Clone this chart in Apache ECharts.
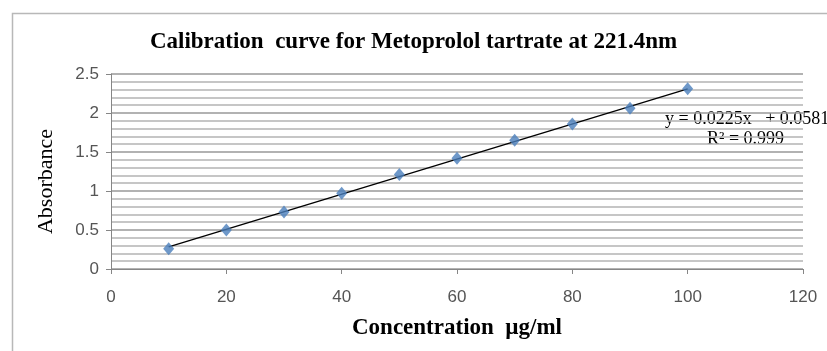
<!DOCTYPE html>
<html>
<head>
<meta charset="utf-8">
<script src="https://cdn.jsdelivr.net/npm/echarts@6/dist/echarts.min.js"></script>
<style>html,body{margin:0;padding:0;background:#fff;}#c{width:827px;height:351px;}</style>
</head>
<body>
<div id="c"></div>
<script>
const titleText = 'Calibration  curve for Metoprolol tartrate at 221.4nm';
const xTitle = 'Concentration  µg/ml';
const yTitle = 'Absorbance';
const concentrations = [10, 20, 30, 40, 50, 60, 70, 80, 90, 100];
const absorbance = [0.26, 0.50, 0.73, 0.97, 1.21, 1.42, 1.65, 1.86, 2.06, 2.31];
const trendX = [10, 100];
const trendY = [0.283, 2.308];
const equationLines = ['y = 0.0225x   + 0.0581', 'R² = 0.999'];

const chart = echarts.init(document.getElementById('c'), null, {renderer: 'canvas'});
const serif = '"Liberation Serif", "Times New Roman", serif';
const sans = '"Liberation Sans", "DejaVu Sans", sans-serif';
chart.setOption({
  animation: false,
  backgroundColor: '#fff',
  title: {
    text: titleText, left: 'center', top: 26,
    textStyle: {fontFamily: serif, fontWeight: 'bold', fontSize: 23, color: '#000'}
  },
  grid: {left: 111, right: 24, top: 74, bottom: 82},
  xAxis: {
    type: 'value', min: 0, max: 120, interval: 20,
    name: xTitle, nameLocation: 'middle', nameGap: 48,
    nameTextStyle: {fontFamily: serif, fontWeight: 'bold', fontSize: 23, color: '#000'},
    axisLine: {show: true, lineStyle: {color: '#868686', width: 1}},
    axisTick: {show: true, inside: false, length: 5, lineStyle: {color: '#868686'}},
    axisLabel: {fontFamily: sans, fontSize: 17, color: '#555', margin: 20},
    splitLine: {show: false}
  },
  yAxis: {
    type: 'value', min: 0, max: 2.5, interval: 0.5,
    name: yTitle, nameLocation: 'middle', nameGap: 54,
    nameTextStyle: {fontFamily: serif, fontSize: 22, color: '#000', padding: [0, 20, 0, 0]},
    axisLine: {show: true, lineStyle: {color: '#868686', width: 1}},
    axisTick: {show: true, inside: false, length: 5, lineStyle: {color: '#868686'}},
    axisLabel: {fontFamily: sans, fontSize: 17, color: '#555', margin: 12},
    splitLine: {show: true, lineStyle: {color: '#999', width: 1.5}},
    minorTick: {show: false, splitNumber: 5},
    minorSplitLine: {show: true, lineStyle: {color: '#b4b4b4', width: 1.5}}
  },
  series: [
    {
      type: 'line', data: trendX.map((x, i) => [x, trendY[i]]),
      showSymbol: false, symbol: 'none',
      lineStyle: {color: '#000', width: 1.3}, z: 2
    },
    {
      type: 'scatter', data: concentrations.map((x, i) => [x, absorbance[i]]),
      symbol: 'diamond', symbolSize: [11, 13],
      itemStyle: {color: '#4a7ebb'}, z: 3
    }
  ],
  graphic: [
    {type: 'rect', left: 10, top: 11, shape: {width: 840, height: 360},
     style: {fill: 'none', stroke: '#b8b8b8', lineWidth: 1.5}, z: -1, silent: true},
    {type: 'text', left: 665, top: 110,
     style: {text: equationLines[0], font: '18px ' + serif, fill: '#000'}},
    {type: 'text', left: 707, top: 130,
     style: {text: equationLines[1], font: '18px ' + serif, fill: '#000'}}
  ]
});
</script>
</body>
</html>
